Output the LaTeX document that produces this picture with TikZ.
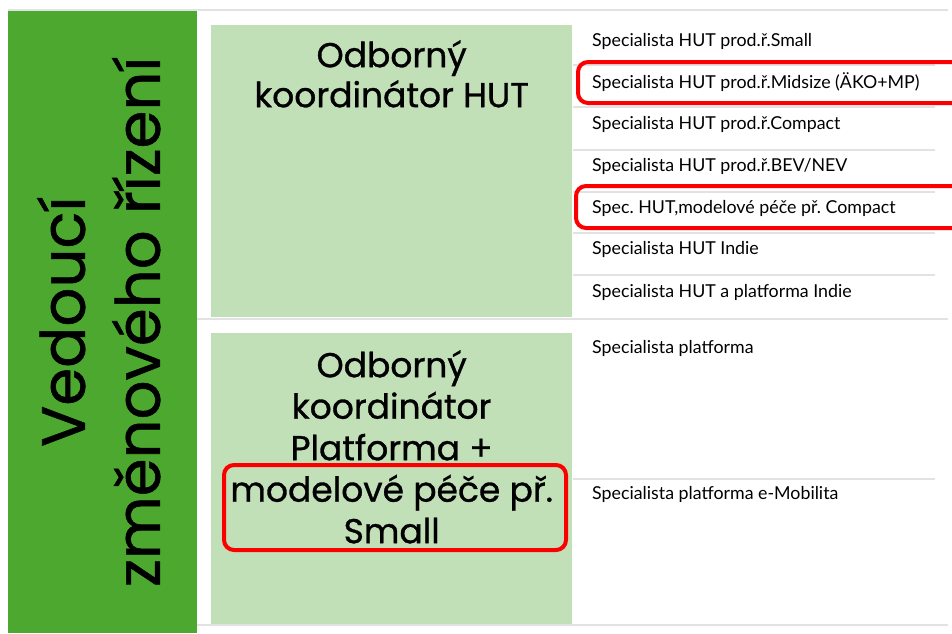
\documentclass[tikz,border=0pt]{standalone}
\usepackage{fontspec}
\setmainfont{Lato}
\newfontfamily\headfont{Poppins}[BoldFont={Poppins},BoldFeatures={FakeBold=0.9}]
\usetikzlibrary{positioning}
\definecolor{leadgreen}{RGB}{76,168,47}
\definecolor{palegreen}{RGB}{194,224,184}
\definecolor{rulegray}{RGB}{226,226,226}
\definecolor{markred}{RGB}{250,0,0}
\frenchspacing

\begin{document}
\begin{tikzpicture}[x=1pt,y=-1pt,
   rule/.style={rulegray,line width=2pt},
   coordbox/.style={fill=palegreen,anchor=north west,inner sep=0pt,minimum width=361pt,minimum height=292pt},
   coordtext/.style={anchor=north,align=center,inner sep=0pt,font=\headfont\bfseries\fontsize{34.5}{40}\selectfont},
   spec/.style={anchor=west,inner sep=0pt,font=\fontsize{17.8}{20}\selectfont},
   hilite/.style={draw=markred,line width=4pt,rounded corners=10pt}]
   \path[use as bounding box,clip] (0,0) rectangle (952,633);
   \fill[white] (0,0) rectangle (952,633);
   % left bar
   \node[fill=leadgreen,anchor=north west,inner sep=0pt,minimum width=189pt,minimum height=623pt] (lead) at (8,10) {};
   \node[rotate=90,align=center,font=\headfont\bfseries\fontsize{61}{75}\selectfont] (leadtext) at ([xshift=-4pt]lead.center) {Vedoucí\\změnového řízení};
   % coordinators
   \node[coordbox] (hutbox) at (211,25) {};
   \node[coordtext,below=15pt of hutbox.north] (huttext) {Odborný\\koordinátor HUT};
   \node[coordbox] (platbox) at (211,333) {};
   \node[coordtext,below=17pt of platbox.north,font=\headfont\bfseries\fontsize{34.5}{41.5}\selectfont] (plattext)
      {Odborný\\koordinátor\\Platforma +\\modelové péče př.\\Small};
   % rules
   \draw[rule] (8,10) -- (948,10);
   \draw[rule] (197,319) -- (948,319);
   \draw[rule] (197,625) -- (948,625);
   \draw[rule] (573,65) -- (935,65);
   \draw[rule] (573,107) -- (935,107);
   \draw[rule] (573,150) -- (935,150);
   \draw[rule] (573,192) -- (935,192);
   \draw[rule] (573,233) -- (935,233);
   \draw[rule] (573,275) -- (935,275);
   \draw[rule] (573,479) -- (935,479);
   % specialists
   \node[spec] (small) at (592,41) {Specialista HUT prod.ř.Small};
   \node[spec] (midsize) at (592,82) {Specialista HUT prod.ř.Midsize (ÄKO+MP)};
   \node[spec] (compact) at (592,124) {Specialista HUT prod.ř.Compact};
   \node[spec] (bev) at (592,166) {Specialista HUT prod.ř.BEV/NEV};
   \node[spec] (spec) at (592,208) {Spec. HUT,modelové péče př. Compact};
   \node[spec] (indie) at (592,249) {Specialista HUT Indie};
   \node[spec] (platindie) at (592,292) {Specialista HUT a platforma Indie};
   \node[spec] (plat) at (592,348) {Specialista platforma};
   \node[spec] (emob) at (592,494) {Specialista platforma e-Mobilita};
   % highlights
   \draw[hilite] (578,62) rectangle (980,103);
   \draw[hilite] (576,186) rectangle (980,228);
   \draw[hilite] (224,465) rectangle (566,550);
\end{tikzpicture}
\end{document}
